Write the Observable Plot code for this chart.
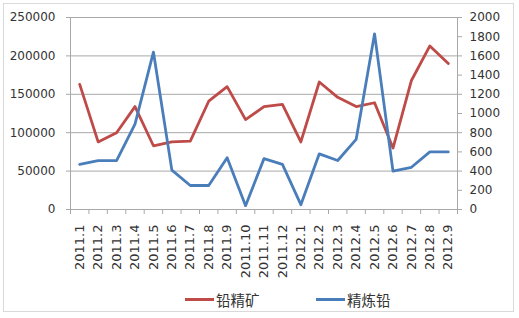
<!DOCTYPE html>
<html>
<head>
<meta charset="utf-8">
<script src="https://cdn.jsdelivr.net/npm/d3@7"></script>
<script src="https://cdn.jsdelivr.net/npm/@observablehq/plot@0.6"></script>
<style>
  html, body { margin: 0; padding: 0; background: #fff; }
  #wrap { position: relative; width: 519px; height: 318px; overflow: hidden; background: #fff; }
  #frame { position: absolute; left: 3px; top: 3px; width: 511px; height: 309px; border: 1px solid #d9d9d9; box-sizing: border-box; }
  #chart { position: absolute; left: 0; top: 0; }
  #legend { position: absolute; left: 0; top: 287px; width: 519px; height: 24px; font-family: "Noto Sans CJK SC", sans-serif; font-size: 14.5px; color: #333; }
  .item { position: absolute; top: 0; display: flex; align-items: center; height: 24px; }
  .sw { display: inline-block; width: 29px; height: 3px; margin-right: 2px; }
</style>
</head>
<body>
<div id="wrap">
  <div id="frame"></div>
  <div id="chart"></div>
  <div id="legend"></div>
</div>
<script>
const months = ["2011.1","2011.2","2011.3","2011.4","2011.5","2011.6","2011.7","2011.8","2011.9","2011.10","2011.11","2011.12","2012.1","2012.2","2012.3","2012.4","2012.5","2012.6","2012.7","2012.8","2012.9"];
const leadOre = [163000, 88000, 100000, 134000, 83000, 88000, 89000, 141000, 160000, 117000, 134000, 137000, 88000, 166000, 146000, 134000, 139000, 80000, 168000, 213000, 190000];
const refinedLead = [470, 510, 510, 890, 1640, 410, 250, 250, 540, 40, 530, 470, 50, 580, 510, 730, 1830, 400, 440, 600, 600];
const leftTicks = [0, 50000, 100000, 150000, 200000, 250000];
const rightTicks = [0, 200, 400, 600, 800, 1000, 1200, 1400, 1600, 1800, 2000];
const seriesNames = ["铅精矿", "精炼铅"];
const colors = ["#BE4B48", "#4A7EBB"];

const k = 250000 / 2000; // right axis → left axis scale factor
const n = months.length;
const centers = d3.range(n).map(i => i + 0.5);
const bounds = d3.range(n + 1);
const gray = "#a8a8a8";

const chart = Plot.plot({
  width: 519,
  height: 285,
  marginLeft: 70,
  marginRight: 62,
  marginTop: 17,
  marginBottom: 76,
  style: { fontSize: "12px", fontFamily: "'DejaVu Sans', sans-serif", color: "#333", background: "transparent" },
  x: { domain: [0, n] },
  y: { domain: [0, 250000] },
  marks: [
    Plot.gridY(leftTicks, { stroke: gray, strokeOpacity: 1 }),
    Plot.ruleX([0, n], { stroke: gray }),
    Plot.ruleY([0], { stroke: gray }),
    Plot.axisY(leftTicks, { anchor: "left", tickSize: 4, tickPadding: 11, stroke: gray, tickFormat: d => String(d), label: null, fill: "#333" }),
    Plot.axisY(rightTicks.map(v => v * k), { anchor: "right", tickSize: 4, tickPadding: 8, stroke: gray, tickFormat: d => String(Math.round(d / k)), label: null, fill: "#333" }),
    Plot.axisX(bounds, { tickSize: 5, stroke: gray, tickFormat: () => "", label: null }),
    Plot.axisX(centers, { tickSize: 0, tickPadding: 15, tickRotate: -90, fontSize: 13, tickFormat: d => months[Math.round(d - 0.5)], label: null, fill: "#333" }),
    Plot.line(leadOre, { x: (d, i) => i + 0.5, y: d => d, stroke: colors[0], strokeWidth: 2.8 }),
    Plot.line(refinedLead, { x: (d, i) => i + 0.5, y: d => d * k, stroke: colors[1], strokeWidth: 2.8 })
  ]
});
document.getElementById("chart").appendChild(chart);

const legend = document.getElementById("legend");
const lefts = [185, 316];
seriesNames.forEach((name, i) => {
  const it = document.createElement("div");
  it.className = "item";
  it.style.left = lefts[i] + "px";
  const sw = document.createElement("span");
  sw.className = "sw";
  sw.style.background = colors[i];
  const t = document.createElement("span");
  t.textContent = name;
  it.appendChild(sw);
  it.appendChild(t);
  legend.appendChild(it);
});
</script>
</body>
</html>
